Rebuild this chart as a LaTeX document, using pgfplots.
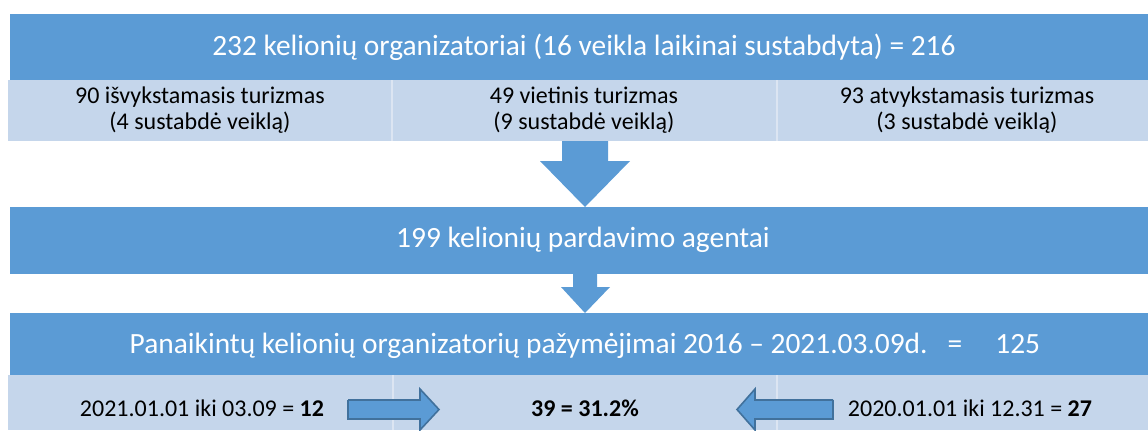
\documentclass[border=0pt]{standalone}
\usepackage{pgfplots}
\pgfplotsset{compat=1.18}
\usepackage{fontspec}
\setmainfont{Carlito}
\definecolor{dkblue}{HTML}{5B9BD5}
\definecolor{ltblue}{HTML}{C5D6EB}
\definecolor{divline}{HTML}{DCE5F2}
\definecolor{outl}{HTML}{41719C}
\begin{document}
\begin{tikzpicture}
\begin{axis}[
  width=574pt, height=215pt, scale only axis,
  xmin=0, xmax=1148, ymin=0, ymax=430, y dir=reverse,
  hide axis, clip=false,
]
\path (rel axis cs:0,0) rectangle (rel axis cs:1,1);
% top box
\addplot[fill=dkblue, draw=none] coordinates {(10,14) (1148,14) (1148,80) (10,80)};
\addplot[fill=ltblue, draw=none] coordinates {(8,80) (1148,80) (1148,141) (8,141)};
\addplot[divline, line width=0.8pt] coordinates {(392,80) (392,141)};
\addplot[divline, line width=0.8pt] coordinates {(777,80) (777,141)};
% big arrow
\addplot[fill=dkblue, draw=none] coordinates {(562,141) (608,141) (608,161) (630,161) (585,207) (540,161) (562,161)};
% box 2
\addplot[fill=dkblue, draw=none] coordinates {(10,207) (1148,207) (1148,274) (10,274)};
% small arrow
\addplot[fill=dkblue, draw=none] coordinates {(573,274) (597,274) (597,287) (610,287) (585,313) (561,287) (573,287)};
% box 3
\addplot[fill=dkblue, draw=none] coordinates {(10,313) (1148,313) (1148,375) (10,375)};
\addplot[fill=ltblue, draw=none] coordinates {(8,375) (1148,375) (1148,430) (8,430)};
\addplot[divline, line width=0.8pt] coordinates {(393,375) (393,430)};
\addplot[divline, line width=0.8pt] coordinates {(777,375) (777,430)};
% right arrow
\addplot[fill=dkblue, draw=outl, line width=0.8pt] coordinates {(348,400) (420,400) (420,389) (439,409.5) (420,430) (420,419) (348,419) (348,400)};
% left arrow
\addplot[fill=dkblue, draw=outl, line width=0.8pt] coordinates {(833,400) (755,400) (755,389) (737,409.5) (755,430) (755,419) (833,419) (833,400)};
% texts
\node[text=white, font=\fontsize{14.7}{17}\selectfont] at (axis cs:584,47) {232 kelionių organizatoriai (16 veikla laikinai sustabdyta) = 216};
\node[align=center, font=\fontsize{12}{12.8}\selectfont] at (axis cs:200,110) {90 išvykstamasis turizmas\\(4 sustabdė veiklą)};
\node[align=center, font=\fontsize{12}{12.8}\selectfont] at (axis cs:584,110) {49 vietinis turizmas\\(9 sustabdė veiklą)};
\node[align=center, font=\fontsize{12}{12.8}\selectfont] at (axis cs:967,110) {93 atvykstamasis turizmas\\(3 sustabdė veiklą)};
\node[text=white, font=\fontsize{14.7}{17}\selectfont] at (axis cs:583,240) {199 kelionių pardavimo agentai};
\node[text=white, font=\fontsize{14.7}{17}\selectfont] at (axis cs:585,346) {Panaikintų kelionių organizatorių pažymėjimai 2016 – 2021.03.09d.\ \ \ =\ \ \ \ \ 125};
\node[font=\fontsize{12}{14}\selectfont] at (axis cs:202,408) {2021.01.01 iki 03.09 = \textbf{12}};
\node[font=\fontsize{12}{14}\selectfont] at (axis cs:585,408) {\textbf{39 = 31.2\%}};
\node[font=\fontsize{12}{14}\selectfont] at (axis cs:970,408) {2020.01.01 iki 12.31 = \textbf{27}};
\end{axis}
\end{tikzpicture}
\end{document}
